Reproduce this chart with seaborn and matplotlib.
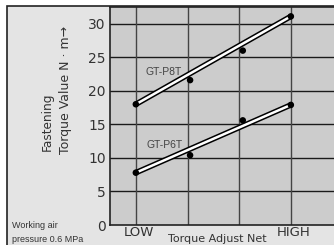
import matplotlib
matplotlib.use("Agg")
import matplotlib.pyplot as plt
import matplotlib.transforms as mtransforms
import seaborn as sns
import pandas as pd
from matplotlib.patches import Rectangle

# Data
positions = [1, 2.05, 3.07, 4]          # LOW ... HIGH adjust net positions
p8t_values = [18.0, 21.6, 26.0, 31.1]   # GT-P8T measured torque
p6t_values = [7.8, 10.4, 15.6, 17.9]    # GT-P6T measured torque
fit_x = [1, 4]
p8t_fit = [18.0, 31.1]
p6t_fit = [7.8, 17.9]
y_ticks = [0, 5, 10, 15, 20, 25, 30]
x_ticks = [1, 2, 3, 4]
x_tick_labels = ["LOW", "", "", "HIGH"]

points = pd.DataFrame({
    "pos": positions * 2,
    "torque": p8t_values + p6t_values,
    "model": ["GT-P8T"] * 4 + ["GT-P6T"] * 4,
})
fits = pd.DataFrame({
    "pos": fit_x * 2,
    "torque": p8t_fit + p6t_fit,
    "model": ["GT-P8T"] * 2 + ["GT-P6T"] * 2,
})

sns.set_theme(style="white")
plt.rcParams["font.family"] = ["DejaVu Sans"]
narrow = ["Liberation Sans", "DejaVu Sans"]

W, H = 334, 245
fig = plt.figure(figsize=(W / 100, H / 100), dpi=100)
fig.patch.set_facecolor("white")

# light grey panel with dark frame (cropped at right/bottom)
fig.patches.append(Rectangle((7 / W, -0.1), 1.2, (H - 6.5) / H + 0.1,
                             transform=fig.transFigure, facecolor="#e4e4e4",
                             edgecolor="#222222", linewidth=1.2, zorder=-5))

ax = fig.add_axes([110 / W, (H - 225) / H, (W - 110) / W + 0.01, 218 / H])
ax.set_facecolor("#cccccc")

for y in y_ticks[1:]:
    ax.axhline(y, color="#1a1a1a", lw=1.0, zorder=1)
for x in x_ticks:
    ax.axvline(x, color="#444444", lw=1.0, zorder=1)

# fit lines: white core with black outline
sns.lineplot(data=fits, x="pos", y="torque", units="model", estimator=None,
             color="black", lw=4.0, ax=ax, zorder=3, legend=False)
sns.lineplot(data=fits, x="pos", y="torque", units="model", estimator=None,
             color="white", lw=1.8, ax=ax, zorder=4, legend=False)
sns.scatterplot(data=points, x="pos", y="torque", color="black", s=22,
                edgecolor="none", ax=ax, zorder=5, legend=False)

ax.text(1.18, 22.8, "GT-P8T", fontsize=7.5, family=narrow, color="#444444", va="center")
ax.text(1.21, 11.9, "GT-P6T", fontsize=7.5, family=narrow, color="#444444", va="center")

ax.set_xlim(0.5, 4.9)
ax.set_ylim(0, 32.5)
ax.set_yticks(y_ticks)
ax.set_yticklabels([str(v) for v in y_ticks], fontsize=10, color="#333333")
ax.set_xticks(x_ticks)
ax.set_xticklabels(x_tick_labels, fontsize=9.5, color="#333333")
ax.tick_params(length=0, pad=3)
ax.tick_params(axis="x", pad=1)
shift = mtransforms.ScaledTranslation(3 / 100, 0, fig.dpi_scale_trans)
for lbl in ax.get_xticklabels():
    lbl.set_transform(lbl.get_transform() + shift)
ax.set_xlabel("")
ax.set_ylabel("")
for side in ["left", "bottom", "top"]:
    ax.spines[side].set_color("#222222")
    ax.spines[side].set_linewidth(1.2)
ax.spines["right"].set_visible(False)

fig.text(217 / W, 1 - 239 / H, "Torque Adjust Net", fontsize=8, color="#333333",
         ha="center", va="center")
fig.text(47 / W, 1 - 151 / H, "Fastening", fontsize=8.7, color="#333333",
         rotation=90, ha="center", va="bottom")
fig.text(65 / W, 1 - 154 / H, "Torque Value N · m→", fontsize=9, color="#333333",
         rotation=90, ha="center", va="bottom")
fig.text(12 / W, 1 - 225 / H, "Working air", fontsize=6.5, family=narrow,
         color="#333333", ha="left", va="center")
fig.text(12 / W, 1 - 239.5 / H, "pressure 0.6 MPa", fontsize=6.5, family=narrow,
         color="#333333", ha="left", va="center")

fig.savefig("out.png", dpi=100)
